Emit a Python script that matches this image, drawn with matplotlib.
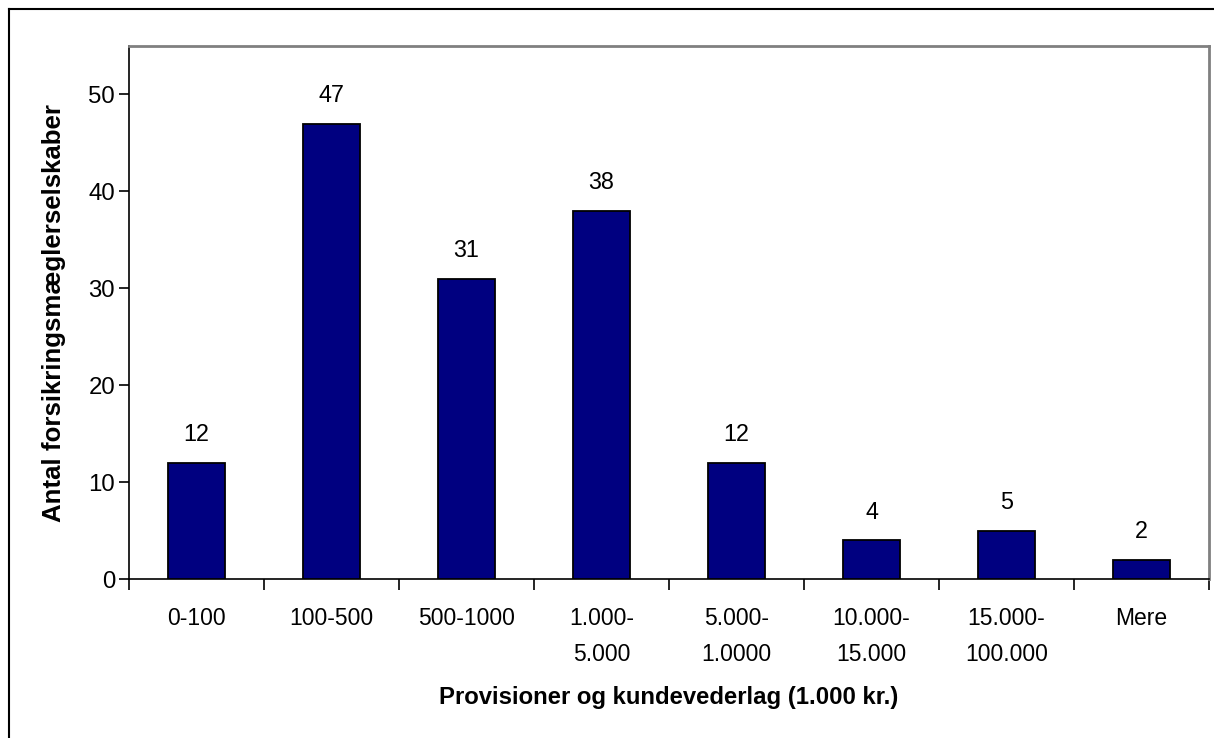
import matplotlib
matplotlib.use("Agg")
import matplotlib.pyplot as plt
from matplotlib.lines import Line2D

categories = ["0-100", "100-500", "500-1000", "1.000-\n5.000", "5.000-\n1.0000",
              "10.000-\n15.000", "15.000-\n100.000", "Mere"]
values = [12, 47, 31, 38, 12, 4, 5, 2]
yticks = [0, 10, 20, 30, 40, 50]

plt.rcParams['font.family'] = ['Liberation Sans', 'DejaVu Sans']

W, H = 1214, 738
fig = plt.figure(figsize=(W / 100, H / 100), dpi=100)
ax = fig.add_axes([129 / W, 1 - 579 / H, (1209 - 129) / W, (579 - 46) / H])

x = list(range(len(categories)))
ax.bar(x, values, width=0.415, color="#000080", edgecolor="black", linewidth=1.3, zorder=3)
for xi, v in zip(x, values):
    ax.annotate(str(v), (xi, v), xytext=(0, 12), textcoords="offset points",
                ha="center", va="bottom", fontsize=16.8)

ax.set_xlim(-0.5, len(categories) - 0.5)
ax.set_ylim(0, 55)
ax.set_yticks(yticks)
ax.set_yticklabels([str(t) for t in yticks], fontsize=17.3)
ax.set_xticks(x)
ax.set_xticklabels(categories, fontsize=16.5, linespacing=1.76)
ax.tick_params(axis="x", length=0, pad=20)
ax.set_xticks([i - 0.5 for i in range(len(categories) + 1)], minor=True)
ax.tick_params(axis="x", which="minor", length=8, width=1.2, direction="out")
ax.tick_params(axis="y", length=7, width=1.2, direction="out", pad=3)

for s in ["left", "bottom"]:
    ax.spines[s].set_color("black")
    ax.spines[s].set_linewidth(1.2)
for s in ["top", "right"]:
    ax.spines[s].set_color("#808080")
    ax.spines[s].set_linewidth(2)

ax.set_xlabel("Provisioner og kundevederlag (1.000 kr.)", fontsize=17.2, fontweight="bold", labelpad=14)
ax.set_ylabel("Antal forsikringsmæglerselskaber", fontsize=18.6, fontweight="bold", labelpad=16)

# outer chart frame (left and top edges visible)
fig.add_artist(Line2D([9 / W, 9 / W], [0, 1 - 9 / H], transform=fig.transFigure, color="black", linewidth=1.5))
fig.add_artist(Line2D([9 / W, 1], [1 - 9 / H, 1 - 9 / H], transform=fig.transFigure, color="black", linewidth=1.5))

fig.savefig("out.png", dpi=100)
